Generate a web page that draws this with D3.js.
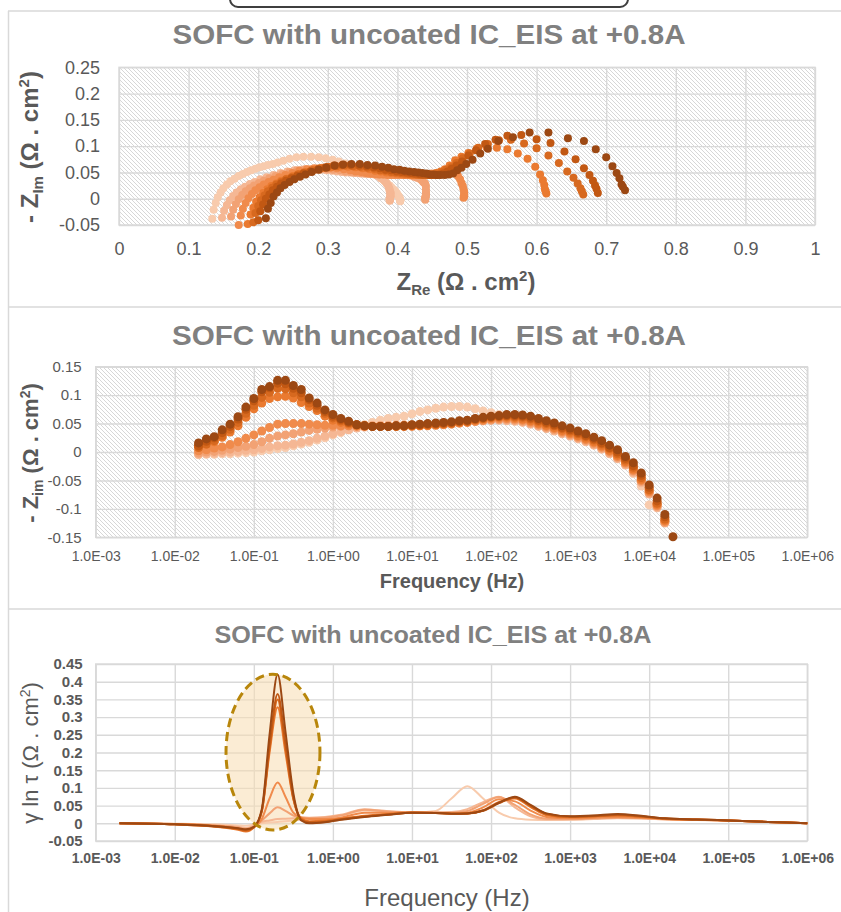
<!DOCTYPE html>
<html><head><meta charset="utf-8">
<script src="https://cdn.jsdelivr.net/npm/d3@7"></script>
<style>
body{margin:0;background:#fff}
svg{display:block}
text{font-family:"Liberation Sans",Arial,sans-serif}
</style>
</head><body>
<svg id="chart" width="841" height="912"></svg>
<script>
// ---- EIS measurement frequencies (Hz), high index = high frequency ----
const freqHz = [0.02,0.0251,0.0316,0.0398,0.0501,0.0631,0.0794,0.1,0.126,0.158,
  0.2,0.251,0.316,0.398,0.501,0.631,0.794,1,1.26,1.58,
  2,2.51,3.16,3.98,5.01,6.31,7.94,10,12.6,15.8,
  20,25.1,31.6,39.8,50.1,63.1,79.4,100,126,158,
  200,251,316,398,501,631,794,1000,1260,1580,
  2000,2510,3160,3980,5010,6310,7940,10000,12600,15800,20000];

// ---- Real part Z_Re (Ohm.cm2), one array per run ----
const zReS1 = [.404,.404,.404,.404,.404,.404,.404,.403,.403,.402,
  .401,.400,.399,.397,.395,.392,.389,.385,.381,.376,
  .371,.366,.360,.354,.347,.340,.333,.325,.316,.307,
  .297,.287,.276,.265,.255,.245,.236,.228,.221,.214,
  .208,.202,.196,.190,.184,.178,.172,.166,.160,.155,
  .150,.146,.142,.139,.136,.134,.132,.130,null,null,null];
const zReS2 = [.389,.389,.389,.389,.389,.389,.390,.390,.390,.390,
  .390,.390,.389,.389,.388,.387,.385,.383,.380,.377,
  .374,.371,.367,.363,.359,.355,.351,.347,.342,.337,
  .332,.326,.320,.313,.306,.298,.290,.281,.272,.262,
  .252,.242,.232,.222,.212,.203,.195,.188,.181,.175,
  .169,.164,.159,.155,.151,.148,.145,.143,.141,.139,null];
const zReS3 = [.440,.440,.440,.440,.441,.441,.441,.441,.441,.441,
  .440,.439,.437,.435,.432,.428,.424,.419,.414,.409,
  .404,.399,.394,.389,.384,.379,.374,.369,.364,.359,
  .353,.347,.340,.333,.325,.317,.308,.299,.289,.278,
  .267,.256,.245,.235,.225,.216,.208,.201,.194,.188,
  .182,.177,.172,.168,.164,.161,.158,.156,.154,.152,null];
const zReS4 = [.495,.496,.496,.496,.496,.495,.494,.492,.490,.487,
  .482,.476,.470,.463,.456,.449,.443,.437,.431,.426,
  .421,.416,.411,.406,.401,.396,.391,.386,.380,.374,
  .368,.362,.355,.348,.340,.332,.323,.313,.303,.292,
  .281,.270,.259,.249,.239,.230,.222,.215,.208,.202,
  .196,.191,.186,.182,.178,.175,.172,.169,.167,.165,null];
const zReS5 = [.614,.613,.612,.611,.609,.605,.598,.587,.573,.558,
  .543,.528,.514,.502,.492,.483,.475,.468,.462,.456,
  .451,.446,.441,.436,.431,.426,.421,.416,.410,.404,
  .398,.391,.384,.376,.368,.360,.350,.340,.329,.317,
  .305,.293,.281,.270,.259,.250,.241,.233,.226,.219,
  .213,.207,.202,.197,.193,.189,.185,.182,.180,.178,null];
const zReS6 = [.667,.665,.663,.659,.653,.644,.632,.617,.600,.582,
  .563,.546,.530,.516,.504,.494,.485,.477,.470,.464,
  .458,.453,.448,.443,.438,.433,.428,.423,.417,.411,
  .405,.398,.391,.383,.375,.367,.357,.347,.336,.324,
  .312,.300,.288,.277,.266,.257,.248,.240,.233,.226,
  .220,.214,.209,.204,.200,.196,.193,.190,.188,.186,null];
const zReS7 = [.688,.686,.684,.681,.676,.668,.656,.640,.620,.600,
  .578,.558,.541,.526,.513,.502,.493,.485,.478,.472,
  .466,.461,.456,.451,.446,.441,.436,.431,.425,.419,
  .413,.406,.399,.391,.383,.375,.366,.356,.345,.333,
  .321,.309,.297,.286,.275,.265,.256,.248,.240,.233,
  .227,.221,.216,.211,.207,.203,.200,.198,.196,.194,null];
const zReS8 = [.727,.724,.722,.719,.715,.709,.700,.685,.668,.645,
  .617,.590,.566,.545,.530,.519,.508,.499,.492,.486,
  .480,.474,.468,.462,.457,.452,.447,.442,.436,.430,
  .424,.417,.410,.403,.395,.387,.378,.368,.357,.346,
  .334,.322,.310,.298,.287,.277,.268,.260,.252,.245,
  .238,.232,.227,.222,.218,.214,.211,.208,.206,.204,.202];

// ---- Imaginary part -Z_Im (Ohm.cm2), one array per run ----
const zImS1 = [-.005,-.004,-.004,-.003,-.003,-.002,-.001,.000,.002,.004,
  .006,.008,.011,.014,.017,.021,.025,.030,.034,.039,
  .044,.048,.052,.056,.059,.061,.063,.067,.071,.074,
  .077,.079,.080,.080,.079,.076,.072,.069,.066,.064,
  .062,.060,.057,.054,.051,.047,.043,.038,.033,.027,
  .020,.012,.003,-.008,-.021,-.038,-.060,-.093,null,null,null];
const zImS2 = [-.004,-.003,-.002,-.001,.000,.001,.003,.004,.006,.009,
  .011,.012,.014,.017,.020,.024,.028,.032,.036,.039,
  .042,.044,.046,.047,.047,.048,.048,.048,.049,.049,
  .050,.050,.051,.052,.053,.054,.055,.056,.056,.055,
  .054,.052,.049,.045,.041,.037,.032,.028,.023,.018,
  .012,.005,-.003,-.012,-.023,-.036,-.054,-.074,-.098,-.125,null];
const zImS3 = [-.002,.000,.001,.003,.005,.008,.010,.013,.018,.024,
  .028,.030,.032,.035,.038,.040,.042,.044,.045,.046,
  .046,.046,.046,.046,.046,.046,.046,.046,.047,.047,
  .048,.049,.050,.051,.052,.054,.055,.056,.057,.057,
  .056,.054,.051,.047,.043,.039,.034,.030,.025,.020,
  .014,.007,-.001,-.010,-.021,-.034,-.052,-.072,-.096,-.124,null];
const zImS4 = [.002,.004,.007,.009,.013,.018,.024,.030,.037,.043,
  .049,.050,.050,.050,.049,.048,.047,.047,.046,.046,
  .045,.045,.045,.045,.045,.045,.045,.045,.046,.046,
  .047,.048,.049,.051,.052,.054,.056,.058,.059,.059,
  .058,.056,.053,.049,.045,.041,.036,.032,.027,.022,
  .016,.009,.001,-.008,-.019,-.032,-.050,-.070,-.094,-.122,null];
const zImS5 = [.010,.014,.018,.026,.035,.046,.061,.076,.086,.094,
  .097,.098,.095,.087,.080,.073,.063,.056,.052,.049,
  .047,.046,.045,.045,.045,.045,.045,.046,.046,.047,
  .048,.049,.050,.052,.053,.056,.058,.060,.061,.061,
  .060,.058,.055,.051,.047,.043,.038,.034,.029,.024,
  .018,.011,.003,-.006,-.017,-.030,-.048,-.068,-.092,-.120,null];
const zImS6 = [.008,.014,.020,.029,.040,.052,.068,.082,.096,.105,
  .112,.111,.104,.097,.086,.077,.068,.060,.055,.051,
  .048,.046,.045,.045,.045,.045,.046,.047,.047,.048,
  .049,.050,.051,.053,.054,.057,.059,.061,.062,.063,
  .062,.061,.058,.054,.050,.046,.041,.037,.032,.027,
  .021,.014,.006,-.003,-.014,-.027,-.045,-.066,-.090,-.118,null];
const zImS7 = [.011,.019,.025,.034,.045,.058,.075,.090,.106,.113,
  .121,.120,.112,.104,.092,.082,.071,.063,.057,.052,
  .048,.046,.045,.045,.045,.046,.046,.047,.048,.049,
  .050,.051,.052,.054,.055,.058,.060,.062,.063,.064,
  .064,.063,.060,.056,.052,.048,.043,.039,.034,.029,
  .023,.016,.008,.000,-.011,-.024,-.041,-.062,-.086,-.114,null];
const zImS8 = [.016,.023,.027,.039,.049,.062,.079,.094,.110,.115,
  .126,.126,.117,.110,.095,.086,.074,.066,.059,.054,
  .048,.046,.045,.045,.045,.046,.046,.048,.049,.050,
  .051,.052,.053,.055,.056,.059,.061,.063,.064,.066,
  .066,.065,.063,.059,.055,.051,.046,.042,.037,.032,
  .026,.020,.012,.004,-.008,-.019,-.037,-.058,-.081,-.110,-.149];

// ---- Distribution of relaxation times, gamma ln tau (Ohm.cm2) ----
const drtHz = [0.002,0.01,0.0316,0.0631,0.0794,0.1,0.126,0.158,0.2,0.251,
  0.316,0.398,0.501,0.794,1.26,2.51,5.01,10,20,31.6,
  50.1,79.4,126,200,316,501,1000,2000,3980,7940,
  15800,39800,100000,316000,1000000];
const drtS1 = [0,-.001,-.003,-.006,-.007,-.004,.000,.002,.004,.006,
  .008,.010,.012,.016,.022,.036,.033,.030,.035,.070,
  .105,.070,.030,.014,.010,.009,.010,.012,.014,.013,
  .011,.009,.007,.004,.000];
const drtS2 = [0,-.002,-.005,-.010,-.013,-.007,.004,.008,.012,.013,
  .014,.015,.016,.018,.024,.040,.034,.031,.031,.032,
  .040,.060,.075,.045,.020,.011,.011,.013,.015,.014,
  .011,.010,.008,.004,.000];
const drtS3 = [0,-.002,-.006,-.012,-.016,-.009,.008,.028,.045,.035,
  .022,.017,.015,.016,.022,.038,.033,.031,.030,.030,
  .035,.055,.074,.052,.025,.013,.012,.014,.016,.015,
  .012,.010,.008,.004,.000];
const drtS4 = [0,-.002,-.007,-.015,-.020,-.011,.012,.070,.115,.075,
  .030,.016,.012,.012,.016,.030,.030,.031,.030,.028,
  .030,.045,.068,.062,.036,.018,.014,.016,.018,.016,
  .012,.010,.008,.004,.000];
const drtS5 = [0,-.003,-.009,-.018,-.023,-.012,.033,.200,.328,.200,
  .068,.014,.006,.008,.013,.021,.026,.030,.029,.027,
  .028,.037,.060,.070,.046,.023,.017,.019,.022,.018,
  .013,.010,.008,.004,.000];
const drtS6 = [0,-.003,-.009,-.016,-.021,-.012,.035,.210,.350,.215,
  .070,.012,.004,.006,.012,.020,.025,.030,.029,.027,
  .028,.036,.058,.072,.048,.025,.018,.020,.023,.019,
  .013,.011,.008,.004,.000];
const drtS7 = [0,-.003,-.008,-.015,-.019,-.011,.035,.220,.365,.225,
  .075,.010,.002,.004,.011,.019,.025,.030,.029,.027,
  .028,.035,.057,.073,.050,.027,.019,.021,.024,.020,
  .014,.011,.008,.004,.000];
const drtS8 = [0,-.003,-.008,-.014,-.017,-.010,.040,.250,.420,.260,
  .085,.008,.000,.003,.010,.018,.024,.030,.029,.027,
  .028,.036,.058,.075,.052,.028,.020,.022,.026,.021,
  .014,.011,.008,.004,.000];

// ---- Axis ticks ----
const nyqXTicks = [0,0.1,0.2,0.3,0.4,0.5,0.6,0.7,0.8,0.9,1];
const nyqXLabels = ["0","0.1","0.2","0.3","0.4","0.5","0.6","0.7","0.8","0.9","1"];
const nyqYTicks = [-0.05,0,0.05,0.1,0.15,0.2,0.25];
const nyqYLabels = ["-0.05","0","0.05","0.1","0.15","0.2","0.25"];
const bodeYTicks = [-0.15,-0.1,-0.05,0,0.05,0.1,0.15];
const bodeYLabels = ["-0.15","-0.1","-0.05","0","0.05","0.1","0.15"];
const drtYTicks = [-0.05,0,0.05,0.1,0.15,0.2,0.25,0.3,0.35,0.4,0.45];
const drtYLabels = ["-0.05","0","0.05","0.1","0.15","0.2","0.25","0.3","0.35","0.4","0.45"];
const freqTicks = [1e-3,1e-2,1e-1,1e0,1e1,1e2,1e3,1e4,1e5,1e6];
const freqLabels = ["1.0E-03","1.0E-02","1.0E-01","1.0E+00","1.0E+01","1.0E+02","1.0E+03","1.0E+04","1.0E+05","1.0E+06"];

// Highlighted low-frequency region on the DRT plot (Hz, gamma)
const highlightHz = [0.0445, 0.686];
const highlightGamma = [-0.019, 0.421];

const titleText = "SOFC with uncoated IC_EIS at +0.8A";
const runColors = ["#f8cbad","#f5b794","#f2a274","#f08b4c","#ea7a30","#d7691f","#c25813","#9c4813"];

const zRe = [zReS1,zReS2,zReS3,zReS4,zReS5,zReS6,zReS7,zReS8];
const zIm = [zImS1,zImS2,zImS3,zImS4,zImS5,zImS6,zImS7,zImS8];
const drt = [drtS1,drtS2,drtS3,drtS4,drtS5,drtS6,drtS7,drtS8];

const GRID = "#d9d9d9", TICK = "#595959", TITLE = "#808080";
const svg = d3.select("#chart");
const defs = svg.append("defs");
const pat = defs.append("pattern").attr("id","hatch").attr("patternUnits","userSpaceOnUse")
  .attr("width",4).attr("height",4);
pat.append("rect").attr("width",4).attr("height",4).attr("fill","#fff");
pat.append("path").attr("d","M-1,-1L5,5M-1,3L1,5M3,-1L5,1")
  .attr("stroke","#d2d2d2").attr("stroke-width",0.9);

// Sheet frame
svg.append("rect").attr("x",230).attr("y",-14).attr("width",398).attr("height",21).attr("rx",8)
  .attr("fill","#fff").attr("stroke","#3f3f3f").attr("stroke-width",2);
const frame = svg.append("g").attr("stroke",GRID).attr("stroke-width",1.5);
frame.append("line").attr("x1",8.5).attr("x2",8.5).attr("y1",11).attr("y2",912);
[11,307,609].forEach(yy => frame.append("line").attr("x1",8).attr("x2",841).attr("y1",yy).attr("y2",yy));

function chartTitle(cx, baseline, size, len){
  svg.append("text").attr("x",cx).attr("y",baseline).attr("text-anchor","middle")
    .attr("font-size",size).attr("font-weight","bold").attr("fill",TITLE)
    .attr("textLength",len).attr("lengthAdjust","spacingAndGlyphs").text(titleText);
}

function frameAxes(x, y, o){
  const [x0,x1] = x.range(), [y0,y1] = y.range();
  const g = svg.append("g");
  g.append("rect").attr("x",x0).attr("y",y1).attr("width",x1-x0).attr("height",y0-y1)
    .attr("fill",o.hatch ? "url(#hatch)" : "#fff");
  const ax = g.append("g").attr("transform",`translate(0,${y0})`)
    .call(d3.axisBottom(x).tickValues(o.xt).tickFormat((d,i)=>o.xl[i])
      .tickSize(-(y0-y1)).tickPadding(o.xpad));
  const ay = g.append("g").attr("transform",`translate(${x0},0)`)
    .call(d3.axisLeft(y).tickValues(o.yt).tickFormat((d,i)=>o.yl[i])
      .tickSize(-(x1-x0)).tickPadding(o.ypad));
  [ax,ay].forEach(a=>{
    a.select(".domain").remove();
    a.selectAll("line").attr("stroke",GRID).attr("stroke-width",1.4);
    a.selectAll("text").attr("fill",TICK).attr("font-family","'Liberation Sans',Arial,sans-serif");
  });
  ax.selectAll("text").attr("font-size",o.xfs).attr("font-weight",o.bold?"bold":"normal");
  ay.selectAll("text").attr("font-size",o.yfs).attr("font-weight",o.bold?"bold":"normal");
  g.append("rect").attr("x",x0).attr("y",y1).attr("width",x1-x0).attr("height",y0-y1)
    .attr("fill","none").attr("stroke",GRID).attr("stroke-width",1.4);
  return g;
}

// text with sub/superscript pieces: [text, size, dy]
function richText(parent, pieces, attrs){
  const t = parent.append("text");
  Object.entries(attrs).forEach(([k,v])=>t.attr(k,v));
  pieces.forEach(([s,fs,dy])=>t.append("tspan").attr("font-size",fs).attr("dy",dy).text(s));
  return t;
}

// ================= Panel 1: Nyquist =================
chartTitle(429, 44, 28, 513);
const xN = d3.scaleLinear().domain([0,1]).range([119,815]);
const yN = d3.scaleLinear().domain([-0.05,0.25]).range([225,67.3]);
frameAxes(xN, yN, {hatch:true, xt:nyqXTicks, xl:nyqXLabels, yt:nyqYTicks, yl:nyqYLabels,
  xpad:17, ypad:19, xfs:18, yfs:18});
const gN = svg.append("g");
zRe.forEach((re,k)=>{
  const pts = re.map((r,i)=>[r, zIm[k][i]])
    .filter(p=>p[0]!==null && p[1]!==null && p[1]>=-0.05 && p[1]<=0.25);
  gN.append("g").selectAll("circle").data(pts).join("circle")
    .attr("cx",p=>xN(p[0])).attr("cy",p=>yN(p[1])).attr("r",4)
    .attr("fill",runColors[k]);
});
richText(svg, [["- Z",24,0],["Im",15,5],[" (Ω . cm",24,-5],["2",15,-9],[")",24,9]],
  {"transform":"translate(38,147) rotate(-90)","text-anchor":"middle","font-weight":"bold","fill":TICK});
richText(svg, [["Z",24,0],["Re",15,5],[" (Ω . cm",24,-5],["2",15,-9],[")",24,9]],
  {"x":466,"y":290,"text-anchor":"middle","font-weight":"bold","fill":TICK});

// ================= Panel 2: Bode (imaginary part) =================
chartTitle(429, 345, 28, 514);
const xF = d3.scaleLog().domain([1e-3,1e6]).range([95.7,807.3]);
const yB = d3.scaleLinear().domain([-0.15,0.15]).range([537.3,366.7]);
frameAxes(xF, yB, {hatch:true, xt:freqTicks, xl:freqLabels, yt:bodeYTicks, yl:bodeYLabels,
  xpad:14, ypad:14, xfs:14, yfs:15});
const gB = svg.append("g");
zIm.forEach((im,k)=>{
  const pts = im.map((v,i)=>[freqHz[i], v]).filter(p=>p[1]!==null);
  gB.append("g").selectAll("circle").data(pts).join("circle")
    .attr("cx",p=>xF(p[0])).attr("cy",p=>yB(p[1])).attr("r",4.5)
    .attr("fill",runColors[k]);
});
richText(svg, [["- Z",22,0],["im",14,5],[" (Ω . cm",22,-5],["2",14,-8],[")",22,8]],
  {"transform":"translate(38,453) rotate(-90)","text-anchor":"middle","font-weight":"bold","fill":TICK});
svg.append("text").attr("x",452).attr("y",588).attr("text-anchor","middle")
  .attr("font-family","Lato,'Open Sans',sans-serif").attr("font-weight","bold")
  .attr("font-size",20).attr("fill",TICK).text("Frequency (Hz)");

// ================= Panel 3: DRT =================
chartTitle(433, 643, 24, 437);
const yD = d3.scaleLinear().domain([-0.05,0.45]).range([841,664]);
frameAxes(xF, yD, {hatch:false, xt:freqTicks, xl:freqLabels, yt:drtYTicks, yl:drtYLabels,
  xpad:12, ypad:13, xfs:14, yfs:15, bold:true});
// highlight ellipse
const ex0 = xF(highlightHz[0]), ex1 = xF(highlightHz[1]);
const ey0 = yD(highlightGamma[0]), ey1 = yD(highlightGamma[1]);
svg.append("ellipse").attr("cx",(ex0+ex1)/2).attr("cy",(ey0+ey1)/2)
  .attr("rx",(ex1-ex0)/2).attr("ry",(ey0-ey1)/2)
  .attr("fill","#f8dcb0").attr("fill-opacity",0.55);
const line = d3.line().x(d=>xF(d[0])).y(d=>yD(d[1])).curve(d3.curveMonotoneX);
const gD = svg.append("g").attr("fill","none");
drt.forEach((g,k)=>{
  gD.append("path").attr("d",line(g.map((v,i)=>[drtHz[i],v])))
    .attr("stroke",runColors[k]).attr("stroke-width",2);
});
svg.append("ellipse").attr("cx",(ex0+ex1)/2).attr("cy",(ey0+ey1)/2)
  .attr("rx",(ex1-ex0)/2).attr("ry",(ey0-ey1)/2)
  .attr("fill","none").attr("stroke","#b8860b").attr("stroke-width",3)
  .attr("stroke-dasharray","9 5");
richText(svg, [["γ ln τ (Ω . cm",22,0],["2",14,-8],[")",22,8]],
  {"transform":"translate(38,753) rotate(-90)","text-anchor":"middle","fill":TICK});
svg.append("text").attr("x",447).attr("y",906).attr("text-anchor","middle")
  .attr("font-size",24).attr("fill",TICK).text("Frequency (Hz)");
</script>
</body></html>
